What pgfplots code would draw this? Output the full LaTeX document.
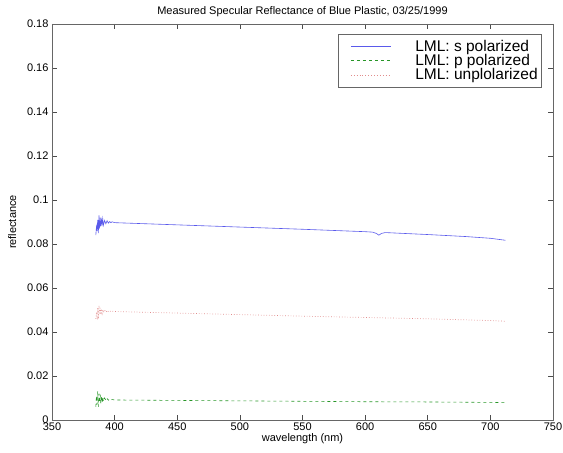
\documentclass[border=0pt]{standalone}
\usepackage{pgfplots}
\pgfplotsset{compat=1.18}
\usepackage{fontspec}
\setmainfont{Liberation Sans}
\definecolor{sblue}{RGB}{90,90,235}
\definecolor{pgreen}{RGB}{40,150,40}
\definecolor{upink}{RGB}{225,140,140}
\begin{document}
\begin{tikzpicture}[x=1pt,y=1pt]
\path[use as bounding box] (-52,-33) rectangle (511,420);
\begin{axis}[
  at={(0,0)}, anchor=south west,
  scale only axis,
  width=501pt, height=396pt,
  xmin=350, xmax=750, ymin=0, ymax=0.18,
  xtick={350,400,...,750},
  ytick={0,0.02,...,0.18},
  yticklabel style={/pgf/number format/fixed,/pgf/number format/precision=2},
  /pgf/number format/assume math mode=true,
  tick align=inside,
  major tick length=5pt,
  tick style={black!70, line width=0.5pt},
  axis line style={black!60, line width=0.6pt},
  ticklabel style={font=\fontsize{11}{12}\selectfont},
  xticklabel style={yshift=1pt},
  title={Measured Specular Reflectance of Blue Plastic, 03/25/1999},
  title style={font=\fontsize{11}{12}\selectfont, yshift=-2pt},
  xlabel={wavelength (nm)},
  ylabel={reflectance},
  xlabel style={font=\fontsize{11}{12}\selectfont, yshift=4pt},
  ylabel style={font=\fontsize{11}{12}\selectfont, yshift=4pt},
  legend style={at={(0.978,0.975)}, anchor=north east, draw=black!60, line width=0.6pt,
    font=\fontsize{15.5}{16}\selectfont, row sep=-2.5pt, inner xsep=2pt, inner ysep=4pt,
    column sep=22pt, cells={anchor=west}},
  legend image code/.code={\path (0pt,0pt); \draw[#1] (10pt,0pt) -- (50pt,0pt);},
]
\addlegendimage{color=sblue, line width=0.8pt}
\addlegendentry{LML: s polarized}
\addlegendimage{color=pgreen, dashed, line width=0.8pt}
\addlegendentry{LML: p polarized}
\addlegendimage{color=upink, dotted, line width=0.9pt}
\addlegendentry{LML: unplolarized}
\addplot[color=sblue, line width=0.6pt, forget plot] coordinates {
(385,0.084)(385.5,0.088)(386,0.086)(386.5,0.091)(387,0.085)(387.5,0.093)(388,0.087)(388.5,0.092)(389,0.088)(389.5,0.091)(390,0.089)(390.5,0.0915)(391,0.0885)(392,0.0907)(393,0.0892)(394,0.0906)(395,0.0895)(396,0.0902)(397,0.0897)(398,0.0901)(400,0.0897)
(420,0.0893)(450,0.0887)(500,0.0877)(550,0.0867)(600,0.0856)(606,0.0854)(609,0.0848)(611,0.0840)(613,0.0848)(616,0.0852)(650,0.0843)(680,0.0834)(700,0.0826)(712,0.0817)};
\addplot[color=pgreen, dashed, line width=0.6pt, forget plot] coordinates {
(385,0.006)(385.5,0.011)(386,0.007)(386.5,0.013)(387,0.006)(387.5,0.012)(388,0.008)(388.5,0.0115)(389,0.0075)(389.5,0.011)(390,0.008)(390.5,0.0105)(391,0.0085)(392,0.0100)(393,0.0088)(394,0.0097)(395,0.0090)(396,0.0095)(397,0.0091)(398,0.0093)(400,0.0091)
(450,0.0089)(500,0.0087)(550,0.0085)(600,0.0083)(650,0.0082)(700,0.0080)(712,0.0079)};
\addplot[color=upink, dotted, line width=0.7pt, forget plot] coordinates {
(385,0.046)(385.5,0.049)(386,0.047)(386.5,0.051)(387,0.046)(387.5,0.052)(388,0.048)(388.5,0.051)(389,0.048)(389.5,0.0505)(390,0.0485)(390.5,0.0502)(391,0.0488)(392,0.0500)(393,0.0490)(394,0.0498)(395,0.0492)(396,0.0496)(397,0.0493)(398,0.0495)(400,0.0493)
(450,0.0486)(500,0.0479)(550,0.0472)(600,0.0466)(650,0.0460)(700,0.0452)(712,0.0449)};
\end{axis}
\end{tikzpicture}
\end{document}
